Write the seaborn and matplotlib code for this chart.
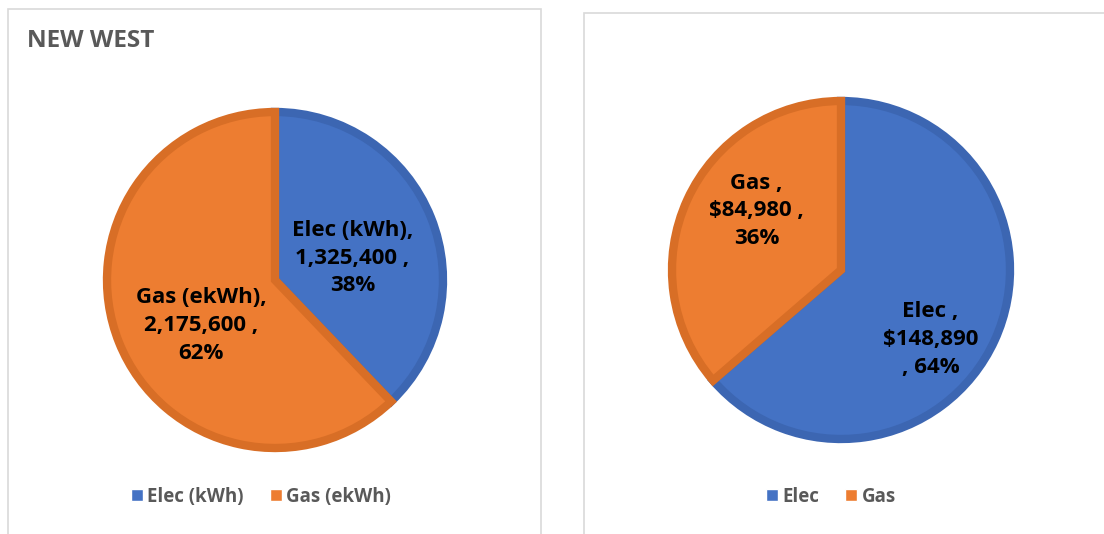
import matplotlib
matplotlib.use("Agg")
import matplotlib.pyplot as plt
from matplotlib.patches import Rectangle
import seaborn as sns

# values
left_labels = ["Elec (kWh)", "Gas (ekWh)"]
left_values = [1325400, 2175600]
left_pct = [38, 62]

right_labels = ["Elec", "Gas"]
right_values = [148890, 84980]
right_pct = [64, 36]

title_left = "NEW WEST"

sns.set_theme(style="white")
plt.rcParams["font.family"] = ["Open Sans", "DejaVu Sans"]

blue, orange = "#4472C4", "#ED7D31"
blue_dk, orange_dk = "#3C66B2", "#D86E26"
W, H = 1104, 534

fig = plt.figure(figsize=(W / 100, H / 100), dpi=100)
fig.patch.set_facecolor("white")

# panel borders
for x0, y0, x1, y1 in [(8, 9, 541, 540), (584, 13, 1110, 540)]:
    fig.add_artist(Rectangle((x0 / W, 1 - y1 / H), (x1 - x0) / W, (y1 - y0) / H,
                             transform=fig.transFigure, fill=False,
                             edgecolor="#D9D9D9", linewidth=1.2))


def draw_pie(cx, cy, r, values, colors, edges, startangle):
    ax = fig.add_axes([(cx - r) / W, 1 - (cy + r) / H, 2 * r / W, 2 * r / H])
    wedges, _ = ax.pie(values, colors=colors, startangle=startangle,
                       counterclock=False, radius=1)
    for w, ec in zip(wedges, edges):
        w.set_edgecolor(ec)
        w.set_linewidth(6)
        w.set_clip_path(w)
    ax.set_xlim(-1, 1)
    ax.set_ylim(-1, 1)
    return ax, wedges


txt = dict(ha="center", va="center", fontsize=16, fontweight="bold",
           color="black", linespacing=1.42)

# left pie
axl, wl = draw_pie(275, 280, 168, left_values, [blue, orange],
                   [blue_dk, orange_dk], 90)
axl.text(0.46, 0.13,
         f"{left_labels[0]},\n{left_values[0]:,} ,\n{left_pct[0]}%", **txt)
axl.text(-0.44, -0.27,
         f"{left_labels[1]},\n{left_values[1]:,} ,\n{left_pct[1]}%", **txt)

# right pie
axr, wr = draw_pie(841, 270, 169, right_values, [blue, orange],
                   [blue_dk, orange_dk], 90)
axr.text(-0.5, 0.35,
         f"{right_labels[1]} ,\n${right_values[1]:,} ,\n{right_pct[1]}%", **txt)
axr.text(0.53, -0.41,
         f"{right_labels[0]} ,\n${right_values[0]:,}\n, {right_pct[0]}%", **txt)

fig.text(27 / W, 1 - 41 / H, title_left, ha="left", va="center",
         fontsize=17.5, fontweight="bold", color="#595959")

leg_kw = dict(loc="center", frameon=False, ncol=2, handlelength=0.62,
              handleheight=0.62, handletextpad=0.25, columnspacing=1.4,
              prop={"size": 13.5, "weight": "bold"}, labelcolor="#595959")
for wedges, labels, cx in [(wl, left_labels, 261), (wr, right_labels, 831)]:
    handles = [Rectangle((0, 0), 1, 1, facecolor=w.get_facecolor()) for w in wedges]
    fig.legend(handles, labels, bbox_to_anchor=(cx / W, 1 - 497 / H), **leg_kw)

fig.savefig("out.png", dpi=100, facecolor="white")
